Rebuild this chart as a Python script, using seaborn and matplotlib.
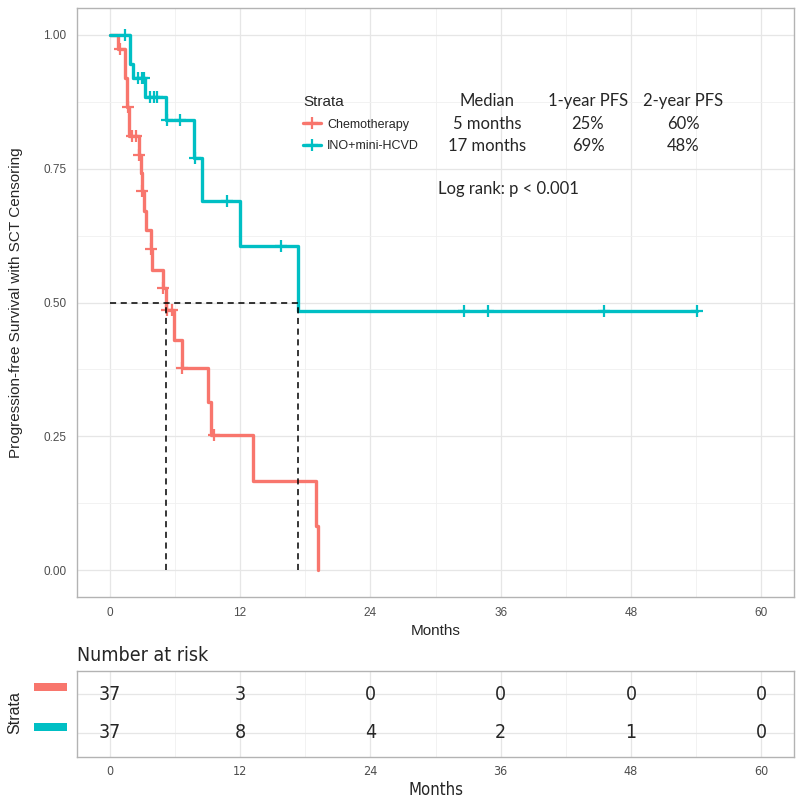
import matplotlib
matplotlib.use("Agg")
import pandas as pd
import matplotlib.pyplot as plt
import seaborn as sns
from matplotlib.lines import Line2D
from matplotlib.patches import Rectangle

#%% Datos
grupos = ["Chemotherapy", "INO+mini-HCVD"]
colores = ["#F8766D", "#00BFC4"]

# Curva Kaplan-Meier Chemotherapy (meses, supervivencia)
quimio_t = [0, 0.74, 1.38, 1.56, 1.75, 2.67, 2.85, 2.94, 3.13, 3.31, 3.8, 3.9,
            4.88, 5.15, 5.89, 6.62, 9.1, 9.38, 13.16, 19.04, 19.2]
quimio_s = [1.0, 0.973, 0.919, 0.865, 0.811, 0.776, 0.741, 0.709, 0.67, 0.636, 0.60, 0.561,
            0.527, 0.486, 0.43, 0.378, 0.314, 0.252, 0.166, 0.083, 0.0]
# Censuras Chemotherapy
quimio_cens_t = [1.0, 1.65, 2.1, 2.4, 2.7, 2.95, 3.8, 4.9, 5.3, 5.75, 6.7, 9.6]
quimio_cens_s = [0.973, 0.865, 0.811, 0.811, 0.776, 0.709, 0.60, 0.527, 0.486, 0.486, 0.378, 0.252]

# Curva INO+mini-HCVD
ino_t = [0, 1.84, 2.2, 3.3, 5.15, 7.8, 8.55, 12.05, 17.3, 54.1]
ino_s = [1.0, 0.946, 0.919, 0.883, 0.841, 0.77, 0.69, 0.605, 0.484, 0.484]
ino_cens_t = [1.4, 2.6, 2.95, 3.2, 3.75, 4.05, 4.4, 5.3, 6.5, 7.9, 10.85, 15.8, 32.6, 34.8, 45.5, 54.1]
ino_cens_s = [1.0, 0.919, 0.919, 0.919, 0.883, 0.883, 0.883, 0.841, 0.841, 0.77, 0.69, 0.605,
              0.484, 0.484, 0.484, 0.484]

medianas = [5.15, 17.3]

# Tabla resumen
columnas = ["Median", "1-year PFS", "2-year PFS"]
fila_quimio = ["5 months", "25%", "60%"]
fila_ino = ["17 months", "69%", "48%"]
log_rank = "Log rank: p < 0.001"

# Numero en riesgo
tiempos_riesgo = [0, 12, 24, 36, 48, 60]
riesgo_quimio = [37, 3, 0, 0, 0, 0]
riesgo_ino = [37, 8, 4, 2, 1, 0]

curvas = pd.concat([
    pd.DataFrame({"Months": quimio_t, "Surv": quimio_s, "Strata": grupos[0]}),
    pd.DataFrame({"Months": ino_t, "Surv": ino_s, "Strata": grupos[1]}),
])
censuras = pd.concat([
    pd.DataFrame({"Months": quimio_cens_t, "Surv": quimio_cens_s, "Strata": grupos[0]}),
    pd.DataFrame({"Months": ino_cens_t, "Surv": ino_cens_s, "Strata": grupos[1]}),
])
paleta = dict(zip(grupos, colores))

#%% Figura
sns.set_style("white")
plt.rcParams["font.family"] = ["Liberation Sans", "DejaVu Sans"]

fig = plt.figure(figsize=(8, 8), dpi=100)
ax = fig.add_axes([77 / 800, 1 - 597 / 800, 717 / 800, 589 / 800])

gris_borde = "#B3B3B3"
gris_grid = "#E6E6E6"


def estilo(a):
    for s in a.spines.values():
        s.set_color(gris_borde)
        s.set_linewidth(1.0)
        s.set_visible(True)
    a.tick_params(axis="both", which="major", color=gris_borde, length=4,
                  labelcolor="#4D4D4D", labelsize=8.5, width=0.8)
    a.tick_params(axis="both", which="minor", length=0)
    a.grid(True, which="major", color=gris_grid, linewidth=0.9)
    a.grid(True, which="minor", color="#F0F0F0", linewidth=0.6)
    a.set_axisbelow(True)


sns.lineplot(data=curvas, x="Months", y="Surv", hue="Strata", palette=paleta,
             drawstyle="steps-post", estimator=None, sort=True, linewidth=2.4,
             legend=False, ax=ax)
for g in grupos:
    d = censuras[censuras["Strata"] == g]
    ax.plot(d["Months"], d["Surv"], linestyle="none", marker="+", markersize=9,
            markeredgewidth=1.6, color=paleta[g])

# Lineas de mediana
ax.plot([0, max(medianas)], [0.5, 0.5], color="black", linestyle=(0, (4, 3)), linewidth=1.1)
for m in medianas:
    ax.plot([m, m], [0, 0.5], color="black", linestyle=(0, (4, 3)), linewidth=1.1)

ax.set_xlim(-3, 63)
ax.set_ylim(-0.05, 1.05)
ax.set_xticks(tiempos_riesgo)
ax.set_xticks([6, 18, 30, 42, 54], minor=True)
ax.set_yticks([0, 0.25, 0.5, 0.75, 1.0])
ax.set_yticklabels(["0.00", "0.25", "0.50", "0.75", "1.00"])
ax.set_yticks([0.125, 0.375, 0.625, 0.875], minor=True)
estilo(ax)
ax.set_xlabel("Months", fontsize=11, labelpad=3)
ax.set_ylabel("Progression-free Survival with SCT Censoring", fontsize=11)
ax.yaxis.set_label_coords((23 - 77) / 717, 0.5)

# Leyenda
handles = [Line2D([], [], color=c, linewidth=2.4, marker="+", markersize=9,
                  markeredgewidth=1.6) for c in colores]
leg = ax.legend(handles, grupos, title="Strata", loc="upper left",
                bbox_to_anchor=(292 / 800, 1 - 84 / 800), bbox_transform=fig.transFigure,
                frameon=False, fontsize=9, title_fontsize=11, handlelength=1.4,
                handletextpad=0.5, labelspacing=0.75)
leg._legend_box.align = "left"

# Tabla de medianas
fuente_tabla = ["Lato", "DejaVu Sans"]
xs_tabla = [487, 588, 683]
for x, col, f1, f2 in zip(xs_tabla, columnas, fila_quimio, fila_ino):
    fig.text(x / 800, 1 - 101 / 800, col, ha="center", va="center", fontsize=12, family=fuente_tabla)
    fig.text(x / 800, 1 - 124 / 800, f1, ha="center", va="center", fontsize=12, family=fuente_tabla)
    fig.text(x / 800, 1 - 146 / 800, f2, ha="center", va="center", fontsize=12, family=fuente_tabla)
fig.text(508 / 800, 1 - 189 / 800, log_rank, ha="center", va="center", fontsize=12, family=fuente_tabla)

#%% Tabla de numero en riesgo
rt = fig.add_axes([77 / 800, 1 - 757 / 800, 717 / 800, 86 / 800])
for fila, valores, c in zip([2, 1], [riesgo_quimio, riesgo_ino], colores):
    for t, v in zip(tiempos_riesgo, valores):
        rt.text(t, fila, str(v), ha="center", va="center", fontsize=14,
                family="DejaVu Sans", stretch="condensed")
rt.set_xlim(-3, 63)
rt.set_ylim(1 - 24 / 39, 2 + 23 / 39)
rt.set_xticks(tiempos_riesgo)
rt.set_xticks([6, 18, 30, 42, 54], minor=True)
rt.set_yticks([1, 2])
rt.set_yticklabels(["", ""])
estilo(rt)
rt.tick_params(axis="y", length=0)
rt.tick_params(axis="x", pad=2)
for lab in rt.get_xticklabels():
    lab.set_family("DejaVu Sans")
    lab.set_stretch("condensed")
    lab.set_fontsize(9)
rt.set_xlabel("Months", fontsize=12, family="DejaVu Sans", stretch="condensed", labelpad=2)
rt.set_title("Number at risk", loc="left", fontsize=14, family="DejaVu Sans",
             stretch="condensed", pad=7)
fig.text(15 / 800, 1 - 713 / 800, "Strata", rotation=90, ha="center", va="center", fontsize=11.5)
for yc, c in zip([687, 727], colores):
    fig.add_artist(Rectangle((34 / 800, 1 - (yc + 4) / 800), 33 / 800, 8 / 800,
                             transform=fig.transFigure, color=c, linewidth=0))

fig.savefig("out.png", dpi=100)
